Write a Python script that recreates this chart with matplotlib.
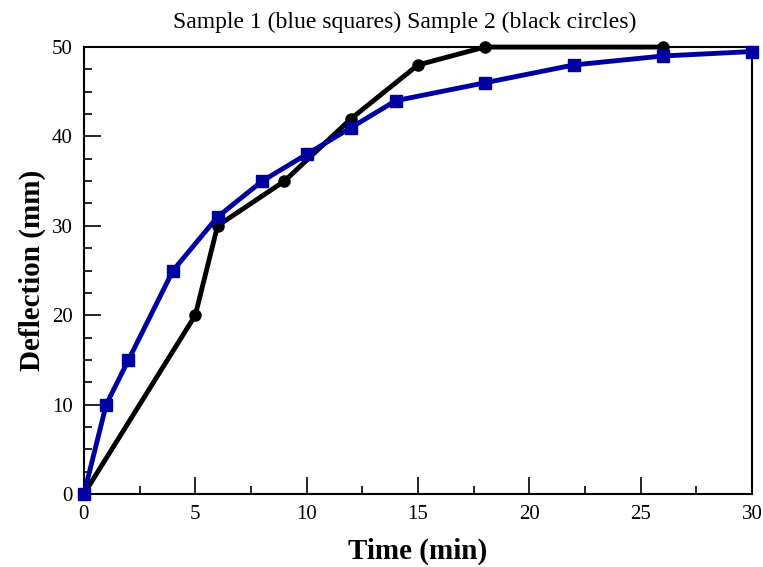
import numpy as np
import matplotlib
matplotlib.use("Agg")
from matplotlib import pyplot as plt
from matplotlib.ticker import MultipleLocator

# Sample 1 (blue squares)
time1 = [0, 1, 2, 4, 6, 8, 10, 12, 14, 18, 22, 26, 30]
defl1 = [0, 10, 15, 25, 31, 35, 38, 41, 44, 46, 48, 49, 49.5]

# Sample 2 (black circles)
time2 = [0, 5, 6, 9, 12, 15, 18, 26]
defl2 = [0, 20, 30, 35, 42, 48, 50, 50]

plt.rcParams['font.family'] = ['Liberation Serif', 'DejaVu Serif']

fig = plt.figure(figsize=(7.63, 5.67), dpi=100, facecolor='w')
ax = fig.add_axes([0.110, 0.1287, 0.8756, 0.7883])

ax.plot(time2, defl2, color='black', lw=3.5, marker='o', ms=8, clip_on=False, zorder=3)
ax.plot(time1, defl1, color='#0000a0', lw=3.5, marker='s', ms=9, clip_on=False, zorder=4)

ax.set_xlim(0, 30)
ax.set_ylim(0, 50)
ax.xaxis.set_major_locator(MultipleLocator(5))
ax.xaxis.set_minor_locator(MultipleLocator(2.5))
ax.yaxis.set_major_locator(MultipleLocator(10))
ax.yaxis.set_minor_locator(MultipleLocator(2.5))
ax.tick_params(which='both', direction='in', top=False, right=False, labelsize=15, width=1.2)
ax.tick_params(which='major', length=12, pad=8)
ax.tick_params(which='minor', length=6)
for s in ax.spines.values():
    s.set_linewidth(1.5)

ax.set_xlabel("Time (min)", fontsize=21, fontweight='bold', labelpad=10)
ax.set_ylabel("Deflection (mm)", fontsize=21, fontweight='bold', labelpad=4)
ax.set_title("Sample 1 (blue squares) Sample 2 (black circles)", fontsize=17, pad=14, x=0.48)

fig.savefig("out.png", dpi=100)
